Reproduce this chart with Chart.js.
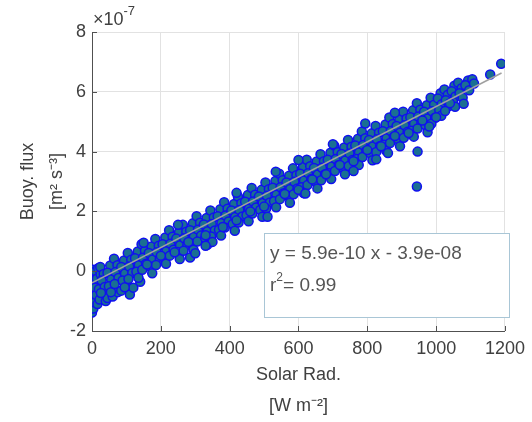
<!DOCTYPE html>
<html lang="en">
<head>
  <meta charset="UTF-8">
  <title>Buoyancy flux vs solar radiation</title>
  <style>
    body { margin: 0; background: #fff; }
    canvas { display: block; }
  </style>
  <script src="https://cdn.jsdelivr.net/npm/chart.js"></script>
</head>
<body>
  <canvas id="fluxChart" width="532" height="422"></canvas>

  <script>
    // Solar radiation [W m-2]
    const solarRad = [
      0, 1, 0, 2, 1, 0, 3, 4, 5, 6, 8, 9, 10, 12, 14, 16, 18, 20, 22, 25,
      40, 45, 60, 75, 85, 100, 110, 120, 140,
      24, 34, 28, 37, 26,
      53, 45, 56, 49, 55,
      64, 74, 68, 77, 66,
      93, 85, 96, 89, 95,
      104, 114, 108, 117, 106,
      133, 125, 136, 129, 135,
      144, 154, 148, 157, 146,
      173, 165, 176, 169, 175,
      184, 194, 188, 197, 186,
      213, 205, 216, 209, 215,
      224, 234, 228, 237, 226,
      253, 245, 256, 249, 255,
      264, 274, 268, 277, 266,
      293, 285, 296, 289, 295,
      304, 314, 308, 317, 306,
      333, 325, 336, 329, 335,
      344, 354, 348, 357, 346,
      373, 365, 376, 369, 375,
      384, 394, 388, 397, 386,
      413, 405, 416, 409, 415,
      424, 434, 428, 437, 426,
      453, 445, 456, 449, 455,
      464, 474, 468, 477, 466,
      493, 485, 496, 489, 495,
      504, 514, 508, 517, 506,
      533, 525, 536, 529, 535,
      544, 554, 548, 557, 546,
      573, 565, 576, 569, 575,
      584, 594, 588, 597, 586,
      613, 605, 616, 609, 615,
      624, 634, 628, 637, 626,
      653, 645, 656, 649, 655,
      664, 674, 668, 677, 666,
      693, 685, 696, 689, 695,
      704, 714, 708, 717, 706,
      733, 725, 736, 729, 735,
      744, 754, 748, 757, 746,
      773, 765, 776, 769, 775,
      784, 794, 788, 797, 786,
      813, 805, 816, 809, 815,
      824, 834, 828, 837, 826,
      853, 845, 856, 849, 855,
      864, 874, 868, 877, 866,
      893, 885, 896, 889, 895,
      904, 914, 908, 917, 906,
      933, 925, 936, 929, 935,
      944, 954, 948, 957, 946,
      973, 965, 976, 969, 975,
      984, 994, 988, 997, 986,
      1013, 1005, 1016, 1009, 1015,
      1024, 1034, 1028, 1037, 1026,
      1053, 1045, 1056, 1049, 1055,
      1064, 1074, 1068, 1077,
      1093, 1085, 1096,
      1105, 1110,
      285, 300, 350, 510, 534, 794, 826, 946, 944, 980, 1157, 1189,
      160, 200, 240, 280, 330, 380, 420, 460, 500, 560, 600, 640,
      680, 720, 760, 800, 840, 880, 920, 960, 1000, 1040, 1080,
      420, 600, 700, 880, 250, 150, 330, 620, 860, 760
    ];

    // Buoyancy flux, in units of 1e-7 m2 s-3
    const buoyFlux = [
      -1.38, -1.15, -0.9, -0.65, -0.4, -0.15, 0.05, -1.25, -0.8, -0.3, -1.05, -0.55, 0.0, -0.8, -0.25, -1.1, 0.1, -0.6, -0.95, -0.1,
      -1.0, -0.9, -0.85, -0.7, -0.65, -0.5, -0.78, -0.55, -0.35,
      0.14, -0.09, -0.31, -0.53, -0.73,
      0.19, -0.05, -0.28, -0.50, -0.70,
      0.42, 0.20, -0.03, -0.23, -0.43,
      0.36, 0.14, -0.08, -0.31, -0.54,
      0.61, 0.38, 0.16, -0.06, -0.26,
      0.66, 0.43, 0.20, -0.02, -0.22,
      0.90, 0.68, 0.45, 0.25, 0.05,
      0.83, 0.61, 0.39, 0.16, -0.07,
      1.08, 0.85, 0.63, 0.41, 0.21,
      1.13, 0.90, 0.67, 0.45, 0.25,
      1.37, 1.15, 0.92, 0.72, 0.52,
      1.31, 1.09, 0.87, 0.64, 0.41,
      1.55, 1.32, 1.10, 0.88, 0.68,
      1.60, 1.37, 1.14, 0.92, 0.72,
      1.84, 1.62, 1.39, 1.19, 0.99,
      1.78, 1.56, 1.34, 1.11, 0.88,
      2.03, 1.80, 1.58, 1.36, 1.16,
      2.07, 1.84, 1.61, 1.39, 1.19,
      2.31, 2.09, 1.86, 1.66, 1.46,
      2.25, 2.03, 1.81, 1.58, 1.35,
      2.50, 2.27, 2.05, 1.83, 1.63,
      2.55, 2.32, 2.09, 1.87, 1.67,
      2.78, 2.56, 2.33, 2.13, 1.93,
      2.72, 2.50, 2.28, 2.05, 1.82,
      2.97, 2.74, 2.52, 2.30, 2.10,
      3.02, 2.79, 2.56, 2.34, 2.14,
      3.26, 3.04, 2.81, 2.61, 2.41,
      3.19, 2.97, 2.75, 2.52, 2.29,
      3.44, 3.21, 2.99, 2.77, 2.57,
      3.49, 3.26, 3.03, 2.81, 2.61,
      3.73, 3.51, 3.28, 3.08, 2.88,
      3.67, 3.45, 3.23, 3.00, 2.77,
      3.91, 3.68, 3.46, 3.24, 3.04,
      3.96, 3.73, 3.50, 3.28, 3.08,
      4.20, 3.98, 3.75, 3.55, 3.35,
      4.14, 3.92, 3.70, 3.47, 3.24,
      4.39, 4.16, 3.94, 3.72, 3.52,
      4.43, 4.20, 3.97, 3.75, 3.55,
      4.67, 4.45, 4.22, 4.02, 3.82,
      4.61, 4.39, 4.17, 3.94, 3.71,
      4.86, 4.63, 4.41, 4.19, 3.99,
      4.91, 4.68, 4.45, 4.23, 4.03,
      5.14, 4.92, 4.69, 4.49, 4.29,
      5.08, 4.86, 4.64, 4.41, 4.18,
      5.33, 5.10, 4.88, 4.66, 4.46,
      5.38, 5.15, 4.92, 4.70, 4.50,
      5.62, 5.40, 5.17, 4.97, 4.77,
      5.55, 5.33, 5.11, 4.88, 4.65,
      5.80, 5.57, 5.35, 5.13, 4.93,
      5.95, 5.78, 5.58, 5.40, 5.20,
      6.08, 5.90, 5.72, 5.52, 5.36,
      6.20, 6.02, 5.84, 5.66, 5.50,
      6.30, 6.12, 5.95, 5.80,
      6.38, 6.22, 6.05,
      6.42, 6.28,
      0.46, 0.60, 0.98, 1.82, 3.33, 4.94, 3.74, 4.0, 2.83, 4.84, 6.58, 6.94,
      0.22, 0.52, 0.63, 0.98, 1.20, 1.48, 1.70, 2.00, 2.16, 2.58, 2.72, 3.07,
      3.24, 3.55, 3.68, 4.05, 4.18, 4.52, 4.62, 5.04, 5.15, 5.62, 5.60,
      2.62, 3.72, 4.25, 5.30, 1.55, 0.95, 0.85, 2.60, 3.95, 3.35
    ];

    // least squares line end points (y = 5.9e-10 x - 3.9e-08)
    const fitX = [0, 1190];
    const fitY = [-0.39, 6.63];
    const fitLabel = 'y = 5.9e-10 x - 3.9e-08';
    const r2Label = '0.99';

    const xTitle = ['Solar Rad.', '[W m\u207B\u00B2]'];
    const yTitle = ['Buoy. flux', '[m\u00B2 s\u207B\u00B3]'];

    const points = solarRad.map((x, i) => ({ x: x, y: buoyFlux[i] }));
    const fitLine = fitX.map((x, i) => ({ x: x, y: fitY[i] }));

    const textColor = '#404040';
    const fontFamily = '"Liberation Sans", Arial, sans-serif';

    // inward tick marks, exponent label and the fit text box
    const extras = {
      id: 'extras',
      afterDraw(chart) {
        const ctx = chart.ctx;
        const a = chart.chartArea;
        const xs = chart.scales.x;
        const ys = chart.scales.y;
        ctx.save();
        ctx.strokeStyle = '#505050';
        ctx.lineWidth = 1;
        ys.ticks.forEach(t => {
          const y = Math.round(ys.getPixelForValue(t.value)) + 0.5;
          ctx.beginPath();
          ctx.moveTo(a.left, y);
          ctx.lineTo(a.left + 5, y);
          ctx.stroke();
        });
        xs.ticks.forEach(t => {
          const x = Math.round(xs.getPixelForValue(t.value)) + 0.5;
          ctx.beginPath();
          ctx.moveTo(x, a.bottom);
          ctx.lineTo(x, a.bottom - 5);
          ctx.stroke();
        });

        // x10^-7 above the y axis
        ctx.fillStyle = textColor;
        ctx.textBaseline = 'alphabetic';
        ctx.textAlign = 'left';
        ctx.font = '18px ' + fontFamily;
        ctx.fillText('\u00D710', a.left + 1, a.top - 7);
        const w = ctx.measureText('\u00D710').width;
        ctx.font = '13px ' + fontFamily;
        ctx.fillText('-7', a.left + 1 + w, a.top - 17);

        // fit box
        const bx = a.left + 172, by = a.top + 201, bw = 245, bh = 84;
        ctx.fillStyle = '#ffffff';
        ctx.fillRect(bx, by, bw, bh);
        ctx.strokeStyle = '#a9c6d6';
        ctx.strokeRect(bx + 0.5, by + 0.5, bw, bh);
        ctx.fillStyle = '#555555';
        ctx.textBaseline = 'middle';
        ctx.font = '19px ' + fontFamily;
        ctx.fillText(fitLabel, bx + 6, by + 21);
        ctx.fillText('r', bx + 6, by + 53);
        const rw = ctx.measureText('r').width;
        ctx.font = '12px ' + fontFamily;
        ctx.fillText('2', bx + 6 + rw, by + 45);
        const sw = ctx.measureText('2').width;
        ctx.font = '19px ' + fontFamily;
        ctx.fillText('= ' + r2Label, bx + 6 + rw + sw, by + 53);
        ctx.restore();
      }
    };

    new Chart(document.getElementById('fluxChart').getContext('2d'), {
      type: 'scatter',
      data: {
        datasets: [
          {
            type: 'line',
            label: 'fit',
            data: fitLine,
            borderColor: '#a0a0a0',
            borderWidth: 1.5,
            pointRadius: 0,
            fill: false,
            clip: 0,
            order: 0
          },
          {
            label: 'data',
            data: points,
            pointStyle: 'circle',
            pointRadius: 4.5,
            backgroundColor: '#1a6f92',
            borderColor: '#1010f0',
            borderWidth: 1.5,
            clip: 0,
            order: 1
          }
        ]
      },
      options: {
        responsive: false,
        animation: false,
        layout: { padding: { top: 32, right: 20, left: 0, bottom: 0 } },
        plugins: {
          legend: { display: false },
          tooltip: { enabled: false }
        },
        scales: {
          x: {
            type: 'linear',
            min: 0,
            max: 1200,
            afterFit: s => { s.height = 91; },
            ticks: {
              stepSize: 200,
              color: textColor,
              padding: 7,
              font: { family: fontFamily, size: 18 },
              callback: v => String(v)
            },
            grid: { color: '#e2e2e2', drawTicks: false },
            border: { color: '#505050', width: 1 },
            title: {
              display: true,
              text: xTitle,
              color: textColor,
              font: { family: fontFamily, size: 18, lineHeight: 1.75 },
              padding: 0
            }
          },
          y: {
            min: -2,
            max: 8,
            afterFit: s => { s.width = 92; },
            ticks: { stepSize: 2, color: textColor, padding: 6, font: { family: fontFamily, size: 18 } },
            grid: { color: '#e2e2e2', drawTicks: false },
            border: { color: '#505050', width: 1 },
            title: {
              display: true,
              text: yTitle,
              color: textColor,
              font: { family: fontFamily, size: 18, lineHeight: 1.6 },
              padding: { top: 14, bottom: 0 }
            }
          }
        }
      },
      plugins: [extras]
    });
  </script>
</body>
</html>
